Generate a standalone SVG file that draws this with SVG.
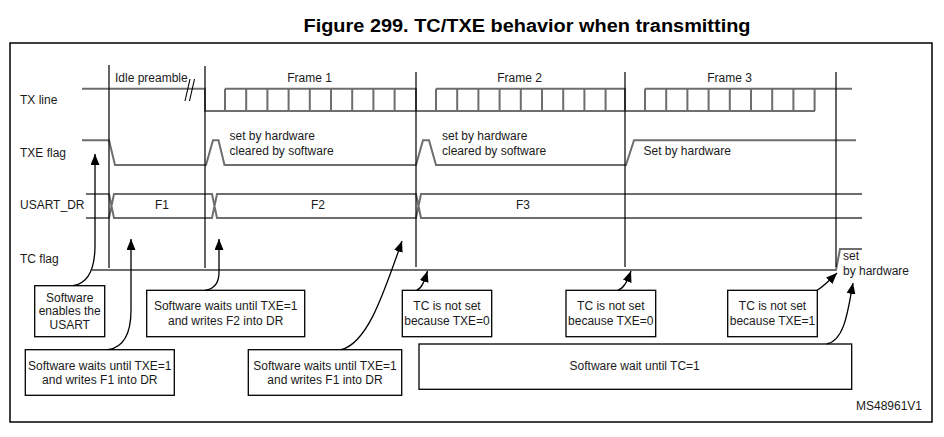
<svg xmlns="http://www.w3.org/2000/svg" width="944" height="437" viewBox="0 0 944 437">
<defs>
<marker id="ah" viewBox="0 0 11 9" refX="11" refY="4.5" markerWidth="11" markerHeight="9" markerUnits="userSpaceOnUse" orient="auto">
<path d="M0,0 L11,4.5 L0,9 z" fill="#000"/>
</marker>
<style>
text{font-family:"Liberation Sans",Arial,sans-serif;font-size:12px;fill:#1a1a1a}
.title{font-size:18px;font-weight:bold;fill:#000}
.c{text-anchor:middle}
.wave{fill:none;stroke:#6e6e6e;stroke-width:2}
.vl{stroke:#000;stroke-width:1.2;fill:none}
.box{fill:#fff;stroke:#000;stroke-width:1.3}
.arr{fill:none;stroke:#000;stroke-width:1.3;marker-end:url(#ah)}
</style>
</defs>
<rect width="944" height="437" fill="#fff"/>
<text class="title c" x="527" y="31.5" textLength="447" lengthAdjust="spacingAndGlyphs">Figure 299. TC/TXE behavior when transmitting</text>
<rect x="10" y="43" width="922" height="379" fill="none" stroke="#000" stroke-width="1.5"/>

<g id="labels">
<text x="20" y="104">TX line</text>
<text x="20" y="157">TXE flag</text>
<text x="20" y="209">USART_DR</text>
<text x="20" y="263">TC flag</text>
<text x="115" y="82">Idle preamble</text>
<text class="c" x="309.5" y="82">Frame 1</text>
<text class="c" x="519.5" y="82">Frame 2</text>
<text class="c" x="729.5" y="82">Frame 3</text>
<text x="229.5" y="140">set by hardware</text>
<text x="229.5" y="155">cleared by software</text>
<text x="442" y="140">set by hardware</text>
<text x="442" y="155">cleared by software</text>
<text x="643.5" y="155">Set by hardware</text>
<text class="c" x="162" y="209">F1</text>
<text class="c" x="318" y="209">F2</text>
<text class="c" x="523" y="209">F3</text>
<text x="843" y="260">set</text>
<text x="843" y="275">by hardware</text>
<text x="856" y="410">MS48961V1</text>
</g>

<g id="waveforms">
<g id="tx-line" class="wave">
<path d="M82,88.7 H205 V111 H416 M225,88.7 H416 V111 H625 M436,88.7 H625 V111 H815 M645,88.7 H852"/>
<path d="M225,88.7 V111 M246.2,88.7 V111 M267.4,88.7 V111 M288.6,88.7 V111 M309.8,88.7 V111 M331,88.7 V111 M352.2,88.7 V111 M373.4,88.7 V111 M394.6,88.7 V111"/>
<path d="M436,88.7 V111 M457.2,88.7 V111 M478.4,88.7 V111 M499.6,88.7 V111 M520.8,88.7 V111 M542,88.7 V111 M563.2,88.7 V111 M584.4,88.7 V111 M605.6,88.7 V111"/>
<path d="M645,88.7 V111 M666.2,88.7 V111 M687.4,88.7 V111 M708.6,88.7 V111 M729.8,88.7 V111 M751,88.7 V111 M772.2,88.7 V111 M793.4,88.7 V111 M814.6,88.7 V111"/>
</g>
<path id="break" d="M185,101 L190,79 M189.5,101 L194.5,79" stroke="#000" stroke-width="1.1" fill="none"/>
<path id="txe-flag" class="wave" d="M82,140.3 H109 L115,165 H206 L213,140.3 H218.5 L224.5,165 H416 L423,140.3 H429 L436,165 H626 L634,140.3 H856"/>
<path id="usart-dr" class="wave" d="M86,194 H109 L114,218 H212 L217,194 H416 L421,218 H862 M86,218 H109 L114,194 H212 L217,218 H416 L421,194 H862"/>
<path id="tc-flag" class="wave" d="M92,270 H836 L840,249 H862"/>
</g>

<g id="markers">
<path class="vl" d="M109,65 V268 M205,66 V268 M416,72 V267 M625,72 V267 M836,72 V267"/>
</g>

<g id="box-enable">
<rect class="box" x="34.7" y="285.7" width="70" height="51"/>
<text class="c" x="69.7" y="301.5">Software</text>
<text class="c" x="69.7" y="315">enables the</text>
<text class="c" x="69.7" y="329.3">USART</text>
</g>
<g id="box-f1a">
<rect class="box" x="25.3" y="349.7" width="149" height="45.6"/>
<text class="c" x="99.8" y="369.5">Software waits until TXE=1</text>
<text class="c" x="99.8" y="384.3">and writes F1 into DR</text>
</g>
<g id="box-f2">
<rect class="box" x="146.7" y="290.3" width="158" height="46.4"/>
<text class="c" x="225.7" y="310.3">Software waits until TXE=1</text>
<text class="c" x="225.7" y="324.8">and writes F2 into DR</text>
</g>
<g id="box-f1b">
<rect class="box" x="248.3" y="349.7" width="153.4" height="45.6"/>
<text class="c" x="325" y="369.5">Software waits until TXE=1</text>
<text class="c" x="325" y="384.3">and writes F1 into DR</text>
</g>
<g id="box-tc1">
<rect class="box" x="402.3" y="290.3" width="89.4" height="46.4"/>
<text class="c" x="447" y="310.3">TC is not set</text>
<text class="c" x="447" y="324.8">because TXE=0</text>
</g>
<g id="box-tc2">
<rect class="box" x="566" y="290.3" width="89.7" height="46.4"/>
<text class="c" x="610.8" y="310.3">TC is not set</text>
<text class="c" x="610.8" y="324.8">because TXE=0</text>
</g>
<g id="box-tc3">
<rect class="box" x="727.7" y="290.3" width="89.6" height="46.4"/>
<text class="c" x="772.5" y="310.3">TC is not set</text>
<text class="c" x="772.5" y="324.8">because TXE=1</text>
</g>
<g id="box-wait">
<rect class="box" x="419" y="344" width="432.7" height="45.3"/>
<text class="c" x="634.7" y="370">Software wait until TC=1</text>
</g>

<g id="connectors">
<path class="arr" d="M73,285.7 C91,283 95,263 95,245 V154"/>
<path class="arr" d="M108,349.7 C126,347 131,330 131,310 V239"/>
<path class="arr" d="M205,290.3 C215,289 219,282 219,272 V239"/>
<path class="arr" d="M341,349.7 C368,343 384,292 402,241"/>
<path class="arr" d="M416.7,290.3 C422,288 424,282 427.5,271"/>
<path class="arr" d="M618,290.3 C624,288 627,282 631,271"/>
<path class="arr" d="M817.3,290.3 C825,285 830,280 837,273"/>
<path class="arr" d="M826.7,344 C845,340 848,310 853,283"/>
</g>
</svg>
